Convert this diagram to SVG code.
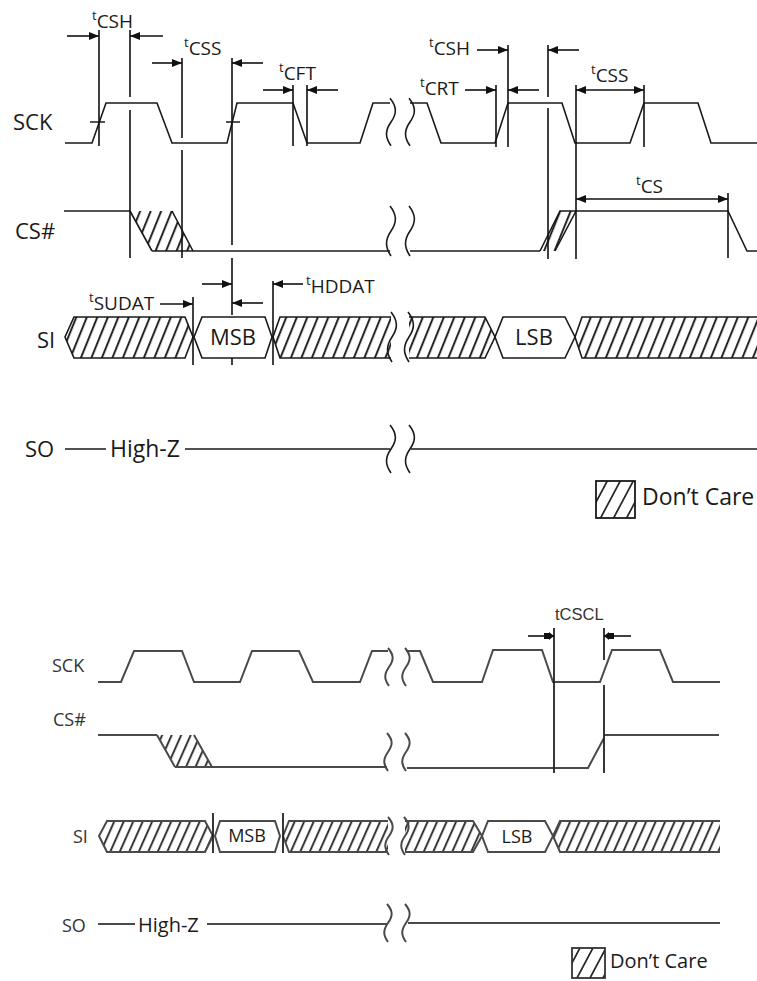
<svg xmlns="http://www.w3.org/2000/svg" xmlns:xlink="http://www.w3.org/1999/xlink" width="757" height="981" viewBox="0 0 757 981">
<style>
.bg{fill:#fff}
.w{fill:none;stroke:#1a1a1a;stroke-width:1.6;stroke-linejoin:miter}
.w2{fill:none;stroke:#4a4a4a;stroke-width:2;stroke-linejoin:miter}
.v{stroke:#111;stroke-width:1.6;fill:none}
.v2{stroke:#222;stroke-width:1.8;fill:none}
.ar{stroke:#111;stroke-width:1.6;fill:none;marker-end:url(#ah)}
.ard{stroke:#111;stroke-width:1.6;fill:none;marker-start:url(#ahs);marker-end:url(#ah)}
.ar2{stroke:#111;stroke-width:1.6;fill:none;marker-end:url(#ah2)}
.h{fill:url(#hatch);stroke:none}
.hb{fill:url(#hatch2);stroke:none}
.lbl{font-family:"Open Sans","Liberation Sans",sans-serif;fill:#1a1a1a}
.big{font-size:22px}
.sub{font-size:19px}
.tt{font-size:13px}
.sm{font-size:18px;fill:#333}
</style>
<defs>
<pattern id="hatch" patternUnits="userSpaceOnUse" width="10.5" height="10" patternTransform="skewX(-22)">
<line x1="5" y1="-1" x2="5" y2="11" stroke="#111" stroke-width="2"/>
</pattern>
<pattern id="hatch2" patternUnits="userSpaceOnUse" width="9.5" height="10" patternTransform="skewX(-24)">
<line x1="5" y1="-1" x2="5" y2="11" stroke="#222" stroke-width="2"/>
</pattern>
<pattern id="hatchL" patternUnits="userSpaceOnUse" width="13" height="10" patternTransform="skewX(-28)">
<line x1="5" y1="-1" x2="5" y2="11" stroke="#111" stroke-width="1.8"/>
</pattern>
<marker id="ah" viewBox="0 0 10 8" refX="10" refY="4" markerWidth="10" markerHeight="8" markerUnits="userSpaceOnUse" orient="auto">
<path d="M0,0 L10,4 L0,8 Z" fill="#111"/>
</marker>
<marker id="ahs" viewBox="0 0 10 8" refX="0" refY="4" markerWidth="10" markerHeight="8" markerUnits="userSpaceOnUse" orient="auto">
<path d="M10,0 L0,4 L10,8 Z" fill="#111"/>
</marker>
<marker id="ah2" viewBox="0 0 10 8" refX="10" refY="4" markerWidth="10" markerHeight="8" markerUnits="userSpaceOnUse" orient="auto">
<path d="M0,1 L5,1 L5,0 L10,4 L5,8 L5,7 L0,7 Z" fill="#111"/>
</marker>
<path id="wv" d="M0,-25 C7,-16 7,-9 1,0 C-5,9 -5,16 1,25"/>
<path id="wvs" d="M0,-19 C6,-12 6,-7 1,0 C-4,7 -4,12 1,19"/>
</defs>
<rect class="bg" x="0" y="0" width="757" height="981"/>

<!-- ================= TOP DIAGRAM ================= -->
<g id="top-labels" class="lbl big">
<text x="13" y="130">SCK</text>
<text x="15" y="239">CS#</text>
<text x="37" y="348">SI</text>
<text x="25" y="457">SO</text>
</g>

<g id="top-sck">
<path class="w" d="M65,143 L92,143 L106,103 L157,103 L172,143 L227,143 L237,103 L293,103 L307,143 L360,143 L373,103 L390,103"/>
<path class="w" d="M410,103 L427,103 L441,143 L495,143 L508,103 L562,103 L575,143 L630,143 L644,103 L698,103 L711,143 L757,143"/>
<path class="w" d="M90,122 L105,122 M226,122 L240,122"/>
<use href="#wv" class="w" transform="translate(390,122) scale(1,0.95)"/>
<use href="#wv" class="w" transform="translate(409,122) scale(1,0.95)"/>
</g>

<g id="top-cs">
<path class="w" d="M64,211 L130,211"/>
<polygon class="h" points="130,211 172,211 193,251 152,251"/>
<path class="w" d="M130,211 L152,251 M172,211 L193,251"/>
<path class="w" d="M152,251 L390,251"/>
<path class="w" d="M410,251 L540,251"/>
<polygon class="h" points="540,251 555,251 576,211 560,211"/>
<path class="w" d="M540,251 L560,211 L576,211 M555,251 L576,211"/>
<path class="w" d="M576,211 L728,211 L747,251 L757,251"/>
<use href="#wv" class="w" transform="translate(390,231)"/>
<use href="#wv" class="w" transform="translate(409,231)"/>
</g>

<g id="top-si">
<polygon class="h" points="74,317 185,317 193,337 185,358 74,358 65,337"/>
<path class="w" d="M74,317 L185,317 L193,337 L185,358 L74,358 L65,337 Z"/>
<path class="w" d="M202,317 L265,317 L272,337 L265,358 L202,358 L194,337 Z"/>
<polygon class="h" points="280,317 391,317 391,358 280,358 273,337"/>
<path class="w" d="M391,317 L280,317 L273,337 L280,358 L391,358"/>
<polygon class="h" points="409,317 485,317 495,337 485,358 409,358"/>
<path class="w" d="M409,317 L485,317 L495,337 L485,358 L409,358"/>
<path class="w" d="M503,317 L565,317 L575,337 L565,358 L503,358 L495,337 Z"/>
<polygon class="h" points="582,317 757,317 757,358 582,358 575,337"/>
<path class="w" d="M757,317 L582,317 L575,337 L582,358 L757,358"/>
<use href="#wv" class="w" transform="translate(391,337)"/>
<use href="#wv" class="w" transform="translate(408,337)"/>
<text class="lbl big" x="233" y="345" text-anchor="middle">MSB</text>
<text class="lbl big" x="534" y="345" text-anchor="middle">LSB</text>
</g>

<g id="top-so">
<path class="w" d="M65,449 L106,449 M185,449 L390,449 M411,449 L757,449"/>
<text class="lbl" x="110" y="457" font-size="23">High-Z</text>
<use href="#wv" class="w" transform="translate(390,449) scale(1,0.96)"/>
<use href="#wv" class="w" transform="translate(409,449) scale(1,0.96)"/>
</g>

<g id="top-legend">
<rect x="596" y="481" width="39" height="37" fill="url(#hatchL)" stroke="#1a1a1a" stroke-width="1.8"/>
<text class="lbl" x="642" y="505" font-size="23">Don’t Care</text>
</g>

<g id="top-timing">
<path class="v" d="M99,30 L99,146"/>
<path class="v" d="M130,30 L130,97 M130,110 L130,258"/>
<path class="v" d="M182,58 L182,138 M182,150 L182,258"/>
<path class="v" d="M232,58 L232,245 M232,258 L232,315 M232,358 L232,365"/>
<path class="v" d="M293,85 L293,146 M307,85 L307,146"/>
<path class="v" d="M193,297 L193,365"/>
<path class="v" d="M273,281 L273,365"/>
<path class="v" d="M496,85 L496,147"/>
<path class="v" d="M508,45 L508,147"/>
<path class="v" d="M548,45 L548,97 M548,108 L548,259"/>
<path class="v" d="M576,85 L576,259"/>
<path class="v" d="M644,85 L644,147"/>
<path class="v" d="M728,193 L728,258"/>

<path class="ar" d="M67,36 L99,36"/>
<path class="ar" d="M163,36 L130,36"/>
<path class="ar" d="M152,63 L182,63"/>
<path class="ar" d="M263,63 L232,63"/>
<path class="ar" d="M263,90 L293,90"/>
<path class="ar" d="M338,90 L307,90"/>
<path class="ar" d="M477,50 L508,50"/>
<path class="ar" d="M579,50 L548,50"/>
<path class="ar" d="M465,90 L496,90"/>
<path class="ar" d="M539,90 L508,90"/>
<path class="ard" d="M576,90 L644,90"/>
<path class="ard" d="M576,199 L728,199"/>
<path class="ar" d="M160,304 L193,304"/>
<path class="ar" d="M263,303 L232,303"/>
<path class="ar" d="M202,284 L232,284"/>
<path class="ar" d="M303,284 L273,284"/>

<g class="lbl sub">
<text x="92" y="28"><tspan class="tt" dy="-8">t</tspan><tspan dy="8">CSH</tspan></text>
<text x="184" y="55"><tspan class="tt" dy="-8">t</tspan><tspan dy="8">CSS</tspan></text>
<text x="279" y="80"><tspan class="tt" dy="-8">t</tspan><tspan dy="8">CFT</tspan></text>
<text x="429" y="55"><tspan class="tt" dy="-8">t</tspan><tspan dy="8">CSH</tspan></text>
<text x="420" y="95"><tspan class="tt" dy="-8">t</tspan><tspan dy="8">CRT</tspan></text>
<text x="591" y="82"><tspan class="tt" dy="-8">t</tspan><tspan dy="8">CSS</tspan></text>
<text x="636" y="193"><tspan class="tt" dy="-8">t</tspan><tspan dy="8">CS</tspan></text>
<text x="89" y="310"><tspan class="tt" dy="-8">t</tspan><tspan dy="8">SUDAT</tspan></text>
<text x="306" y="293"><tspan class="tt" dy="-8">t</tspan><tspan dy="8">HDDAT</tspan></text>
</g>
</g>

<!-- ================= BOTTOM DIAGRAM ================= -->
<g id="bot-labels" class="lbl sm">
<text x="52" y="672">SCK</text>
<text x="53" y="726">CS#</text>
<text x="73" y="843">SI</text>
<text x="62" y="932">SO</text>
</g>

<g id="bot-sck">
<path class="w2" d="M98,682 L121,682 L134,651 L182,651 L194,682 L240,682 L252,651 L299,651 L313,682 L360,682 L372,651 L388,651"/>
<path class="w2" d="M406,651 L420,651 L433,682 L482,682 L493,650 L542,650 L553,682 L600,682 L612,650 L660,650 L673,682 L720,682"/>
<use href="#wvs" class="w2" transform="translate(388,667)"/>
<use href="#wvs" class="w2" transform="translate(405,667)"/>
</g>

<g id="bot-cs">
<path class="w2" d="M98,735 L157,735"/>
<polygon class="hb" points="157,735 194,735 212,767 175,767"/>
<path class="w2" d="M157,735 L175,767 M194,735 L212,767"/>
<path class="w2" d="M175,767 L387,767"/>
<path class="w2" d="M407,768 L588,768 L604,738"/>
<path class="w2" d="M604,735 L719,735"/>
<use href="#wvs" class="w2" transform="translate(387,752)"/>
<use href="#wvs" class="w2" transform="translate(405,752)"/>
</g>

<g id="bot-si">
<polygon class="hb" points="107,821 205,821 213,836 205,852 107,852 99,836"/>
<path class="w2" d="M107,821 L205,821 L213,836 L205,852 L107,852 L99,836 Z"/>
<path class="w2" d="M220,821 L275,821 L280,836 L275,852 L220,852 L215,836 Z"/>
<polygon class="hb" points="289,821 388,821 388,852 289,852 283,836"/>
<path class="w2" d="M388,821 L289,821 L283,836 L289,852 L388,852"/>
<polygon class="hb" points="405,821 473,821 482,836 473,852 405,852"/>
<path class="w2" d="M405,821 L473,821 L482,836 L473,852 L405,852"/>
<path class="w2" d="M488,821 L545,821 L553,836 L545,852 L488,852 L482,836 Z"/>
<polygon class="hb" points="560,821 720,821 720,852 560,852 553,836"/>
<path class="w2" d="M720,821 L560,821 L553,836 L560,852 L720,852"/>
<use href="#wvs" class="w2" transform="translate(388,836)"/>
<use href="#wvs" class="w2" transform="translate(404,836)"/>
<path class="v2" d="M213,813 L213,853 M283,813 L283,853"/>
<text class="lbl" x="247" y="842" font-size="18" text-anchor="middle" fill="#333">MSB</text>
<text class="lbl" x="517" y="843" font-size="18" text-anchor="middle" fill="#333">LSB</text>
</g>

<g id="bot-so">
<path class="w2" d="M98,924 L135,924 M207,924 L387,924 M408,923 L720,923"/>
<text class="lbl" x="138" y="932" font-size="20" fill="#333">High-Z</text>
<use href="#wvs" class="w2" transform="translate(387,923)"/>
<use href="#wvs" class="w2" transform="translate(405,923)"/>
</g>

<g id="bot-legend">
<rect x="572" y="948" width="33" height="30" fill="url(#hatchL)" stroke="#333" stroke-width="1.8"/>
<text class="lbl" x="610" y="968" font-size="20" fill="#333">Don’t Care</text>
</g>

<g id="bot-timing">
<path class="v2" d="M554,628 L554,773"/>
<path class="v2" d="M604,628 L604,660 M604,685 L604,773"/>
<path class="ar2" d="M528,636 L554,636"/>
<path class="ar2" d="M631,636 L604,636"/>
<text x="555" y="620" font-family="Liberation Sans, Arial, sans-serif" font-size="16.5" fill="#333">tCSCL</text>
</g>
</svg>
